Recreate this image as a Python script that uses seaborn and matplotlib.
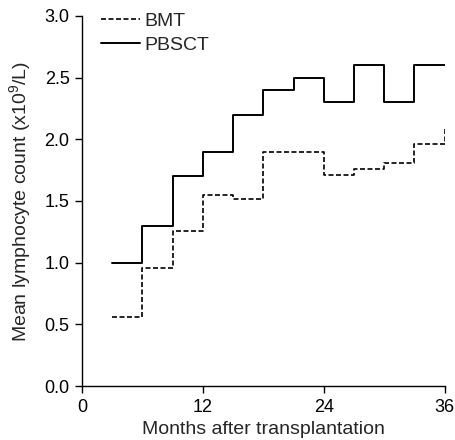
import pandas as pd
import numpy as np
import matplotlib
matplotlib.use('Agg')
import matplotlib.pyplot as plt
import seaborn as sns

# step values, one per 3-month interval (last point closes the final step)
months = [3, 6, 9, 12, 15, 18, 21, 24, 27, 30, 33, 36]
bmt = [0.56, 0.96, 1.26, 1.55, 1.52, 1.90, 1.90, 1.71, 1.76, 1.81, 1.96, 2.08]
pbsct = [1.00, 1.30, 1.70, 1.90, 2.20, 2.40, 2.50, 2.30, 2.60, 2.30, 2.60, 2.60]

sns.set_style('ticks')
plt.rcParams['font.family'] = ['Liberation Sans', 'DejaVu Sans']
plt.rcParams['mathtext.fontset'] = 'custom'
plt.rcParams['mathtext.rm'] = 'Liberation Sans'
plt.rcParams['mathtext.it'] = 'Liberation Sans'

df = pd.DataFrame({'month': months, 'BMT': bmt, 'PBSCT': pbsct})

fig = plt.figure(figsize=(4.56, 4.40), dpi=100)
ax = fig.add_axes([0.18, 0.1227, 0.795, 0.841])

sns.lineplot(data=df, x='month', y='BMT', ax=ax, color='black', lw=1.2,
             linestyle=(0, (3, 1.5)), drawstyle='steps-post', label='BMT')
sns.lineplot(data=df, x='month', y='PBSCT', ax=ax, color='black', lw=1.4,
             drawstyle='steps-post', label='PBSCT')

ax.set_xlim(0, 36)
ax.set_ylim(0, 3.0)
ax.set_xticks([0, 12, 24, 36])
ax.set_yticks(np.arange(0, 3.01, 0.5))
ax.set_yticklabels([f'{v:.1f}' for v in np.arange(0, 3.01, 0.5)])
ax.tick_params(direction='out', length=5, width=1, pad=4, labelsize=13,
               colors='black')
for s in ['left', 'bottom']:
    ax.spines[s].set_color('black')
    ax.spines[s].set_linewidth(1)
sns.despine(ax=ax)

ax.set_xlabel('Months after transplantation', fontsize=14, labelpad=4)
ax.set_ylabel('Mean lymphocyte count (x10$^9$/L)', fontsize=14, labelpad=8)

ax.legend(loc='upper left', frameon=False, fontsize=14, handlelength=2.0,
          handletextpad=0.25, borderaxespad=0.0, labelspacing=0.3,
          bbox_to_anchor=(0.03, 1.03))

fig.savefig('out.png', dpi=100)
